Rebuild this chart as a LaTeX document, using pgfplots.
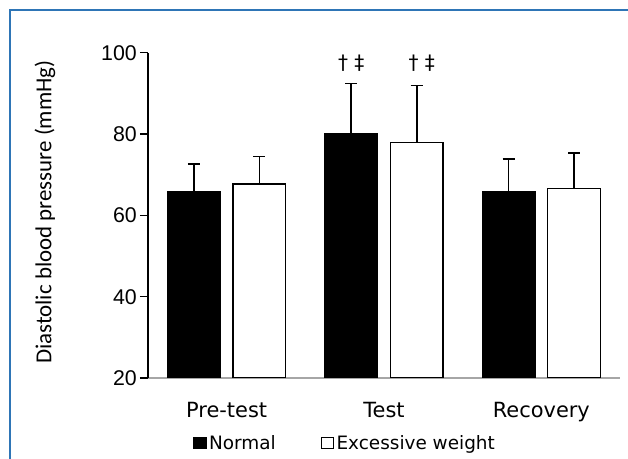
\documentclass[border=0pt]{standalone}
\usepackage{fontspec}
\setmainfont{Liberation Sans}
\newfontfamily\dejavu{DejaVu Sans}
\newfontfamily\carlito{Carlito}
\usepackage{pgfplots}
\pgfplotsset{compat=1.18}
\definecolor{frameblue}{HTML}{2E75B6}
\definecolor{axgray}{HTML}{A6A6A6}

\begin{document}
\begin{tikzpicture}
\useasboundingbox (0bp,0bp) rectangle (628bp,459bp);
\draw[frameblue, line width=2bp] (9.5bp,0bp) -- (9.5bp,449bp) -- (628bp,449bp);
\begin{axis}[
  at={(148bp,81bp)}, anchor=south west,
  scale only axis, width=472bp, height=325.3bp,
  xmin=-0.5, xmax=2.5, ymin=20, ymax=100,
  axis x line=bottom, axis y line=left,
  x axis line style={-, draw=axgray, line width=1.3bp},
  y axis line style={-, draw=black, line width=1.3bp},
  xtick={0,1,2}, xticklabels={Pre-test,Test,Recovery},
  x tick style={draw=none},
  ytick={20,40,60,80,100},
  tick align=outside, major tick length=8bp,
  y tick style={black, line width=1.3bp},
  /pgf/number format/assume math mode=true,
  yticklabel style={font=\fontsize{21.4}{24}\selectfont, inner sep=0pt, anchor=east, xshift=-3bp},
  xticklabel style={font=\dejavu\fontsize{21}{24}\selectfont, inner sep=0pt, anchor=base, yshift=-31bp},
  ylabel={Diastolic blood pressure (mmHg)},
  every axis y label/.style={at={(axis description cs:-0.2182,0.51)}, rotate=90, anchor=center, font=\carlito\fontsize{23}{27}\selectfont, inner sep=0pt},
  ybar, bar width=0.335,
  error bars/y dir=plus, error bars/y explicit,
  error bars/error mark=|,
  error bars/error bar style={line width=1.6bp, black},
  error bars/error mark options={mark size=6bp, line width=1.6bp, black},
  legend columns=2,
  legend entries={Normal, Excessive weight},
  legend style={at={(axis description cs:0.096,-0.1994)}, anchor=west, draw=none, fill=none, inner sep=0pt, outer sep=0pt,
    font=\dejavu\fontsize{18.5}{22}\selectfont, nodes={inner sep=0pt},
    cells={anchor=base west},
    /tikz/every odd column/.append style={column sep=2.5bp},
    /tikz/every even column/.append style={column sep=45bp}},
]
\addlegendimage{legend image code/.code={\draw[fill=black, draw=black, line width=1.3bp] (0.6bp,0.3bp) rectangle (12.6bp,11.4bp);}}
\addlegendimage{legend image code/.code={\draw[fill=white, draw=black, line width=1.3bp] (0.6bp,0.3bp) rectangle (12.6bp,11.4bp);}}
\addplot[forget plot, bar shift=-0.208, fill=black, draw=black, line width=1.3bp]
  coordinates {(0,65.9) +- (0,6.7) (1,80.0) +- (0,12.4) (2,65.8) +- (0,8.1)};
\addplot[forget plot, bar shift=0.208, fill=white, draw=black, line width=1.3bp]
  coordinates {(0,67.7) +- (0,6.8) (1,77.9) +- (0,14.0) (2,66.6) +- (0,8.7)};
\node[font=\dejavu\fontsize{20}{24}\selectfont] at (axis cs:0.792,97.5) {† ‡};
\node[font=\dejavu\fontsize{20}{24}\selectfont] at (axis cs:1.24,97.5) {† ‡};
\end{axis}
\end{tikzpicture}
\end{document}
